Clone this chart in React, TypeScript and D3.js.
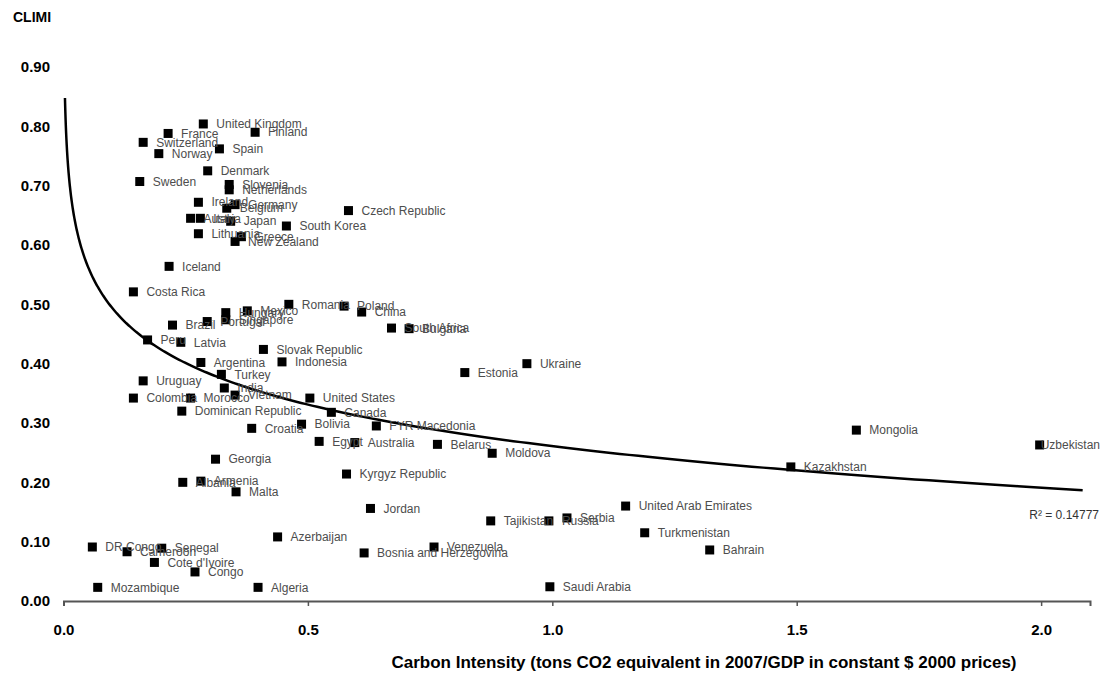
import React, { useEffect, useRef } from "react";
import * as d3 from "d3";

const width = 1111;
const height = 673;
const margin = { top: 67, right: 21, bottom: 72, left: 63.5 };

// carbon intensity (x) and CLIMI score (y)
const countries = [
  "United Kingdom", "Finland", "France", "Switzerland", "Spain", "Norway", "Denmark", "Sweden",
  "Slovenia", "Netherlands", "Ireland", "Germany", "Belgium", "Austria", "Italy", "Japan",
  "South Korea", "Czech Republic", "Lithuania", "Greece", "New Zealand", "Iceland", "Costa Rica",
  "Romania", "Poland", "China", "Hungary", "Mexico", "Portugal", "Singapore", "Brazil", "Peru",
  "Latvia", "Slovak Republic", "Indonesia", "Argentina", "Turkey", "Uruguay", "India", "Vietnam",
  "Colombia", "Morocco", "United States", "Dominican Republic", "Canada", "Croatia", "Bolivia",
  "FYR Macedonia", "Egypt", "Australia", "Belarus", "Moldova", "Georgia", "Kyrgyz Republic",
  "Albania", "Armenia", "Malta", "Jordan", "Tajikistan", "Russia", "Serbia", "United Arab Emirates",
  "Turkmenistan", "Azerbaijan", "Bosnia and Herzegovina", "Venezuela", "Bahrain", "DR Congo",
  "Cameroon", "Senegal", "Cote d'Ivoire", "Congo", "Mozambique", "Algeria", "Saudi Arabia",
  "Ukraine", "Estonia", "South Africa", "Bulgaria", "Mongolia", "Kazakhstan", "Uzbekistan",
];

const intensity = [
  0.286, 0.392, 0.214, 0.163, 0.319, 0.195, 0.295, 0.156,
  0.339, 0.339, 0.276, 0.351, 0.334, 0.26, 0.28, 0.342,
  0.456, 0.583, 0.276, 0.364, 0.351, 0.216, 0.143,
  0.461, 0.574, 0.61, 0.332, 0.376, 0.294, 0.332, 0.223, 0.172,
  0.24, 0.409, 0.447, 0.281, 0.323, 0.163, 0.329, 0.351,
  0.143, 0.26, 0.504, 0.242, 0.548, 0.385, 0.487,
  0.64, 0.523, 0.596, 0.765, 0.877, 0.311, 0.579,
  0.244, 0.281, 0.353, 0.628, 0.874, 0.993, 1.03, 1.15,
  1.189, 0.438, 0.615, 0.758, 1.322, 0.059,
  0.13, 0.201, 0.186, 0.269, 0.07, 0.398, 0.995,
  0.948, 0.821, 0.671, 0.707, 1.622, 1.488, 1.997,
];

const climi = [
  0.804, 0.79, 0.788, 0.773, 0.762, 0.754, 0.725, 0.707,
  0.702, 0.693, 0.672, 0.668, 0.662, 0.645, 0.645, 0.64,
  0.632, 0.658, 0.619, 0.614, 0.606, 0.564, 0.521,
  0.5, 0.497, 0.487, 0.486, 0.489, 0.471, 0.474, 0.465, 0.44,
  0.436, 0.424, 0.403, 0.402, 0.382, 0.371, 0.359, 0.347,
  0.342, 0.342, 0.342, 0.32, 0.318, 0.291, 0.298,
  0.295, 0.269, 0.267, 0.264, 0.249, 0.239, 0.214,
  0.2, 0.202, 0.184, 0.156, 0.135, 0.135, 0.14, 0.16,
  0.115, 0.108, 0.081, 0.091, 0.086, 0.091,
  0.083, 0.089, 0.065, 0.049, 0.023, 0.023, 0.024,
  0.4, 0.385, 0.46, 0.459, 0.288, 0.226, 0.263,
];

const xTicks = [0, 0.5, 1, 1.5, 2];
const yTicks = [0, 0.1, 0.2, 0.3, 0.4, 0.5, 0.6, 0.7, 0.8, 0.9];
const rSquaredLabel = "R² = 0.14777";
// logarithmic trendline y = a + b ln(x), as drawn in the picture
const trendA = 0.261;
const trendB = -0.101;
const trendFrom = 0.003;
const trendTo = 2.085;

const font = "'Liberation Sans', Arial, sans-serif";

export default function App() {
  const ref = useRef<SVGSVGElement>(null);

  useEffect(() => {
    const svg = d3.select(ref.current);
    svg.selectAll("*").remove();

    const x = d3.scaleLinear([0, 2.1], [margin.left, width - margin.right]);
    const y = d3.scaleLinear([0, 0.9], [height - margin.bottom, margin.top]);

    // x axis
    const xAxis = svg
      .append("g")
      .attr("transform", `translate(0,${y(0)})`)
      .call(d3.axisBottom(x).tickValues(xTicks).tickSize(5).tickFormat(d3.format(".1f")));
    xAxis.select(".domain").attr("stroke", "#555").attr("stroke-width", 2);
    xAxis.selectAll(".tick line").attr("stroke", "#555").attr("stroke-width", 1.5);
    xAxis
      .selectAll(".tick text")
      .attr("y", 23)
      .attr("fill", "#000")
      .style("font", `bold 15px ${font}`);

    // y tick labels only (no axis line)
    svg
      .append("g")
      .selectAll("text")
      .data(yTicks)
      .join("text")
      .attr("x", 50)
      .attr("y", (d) => y(d))
      .attr("dy", "0.35em")
      .attr("text-anchor", "end")
      .style("font", `bold 15px ${font}`)
      .text((d) => d.toFixed(2));

    svg
      .append("text")
      .attr("x", 13)
      .attr("y", 22)
      .style("font", `bold 14px ${font}`)
      .text("CLIMI");

    svg
      .append("text")
      .attr("x", 704)
      .attr("y", 668)
      .attr("text-anchor", "middle")
      .style("font", `bold 17px ${font}`)
      .text("Carbon Intensity (tons CO2 equivalent in 2007/GDP in constant $ 2000 prices)");

    // trendline
    const trendX = d3.range(0, 401).map((i) => trendFrom * Math.pow(trendTo / trendFrom, i / 400));
    svg
      .append("path")
      .datum(trendX)
      .attr("fill", "none")
      .attr("stroke", "#000")
      .attr("stroke-width", 2.5)
      .attr(
        "d",
        d3
          .line<number>()
          .x((d) => x(d))
          .y((d) => y(trendA + trendB * Math.log(d)))
      );

    const idx = d3.range(countries.length);

    // markers
    svg
      .append("g")
      .selectAll("rect")
      .data(idx)
      .join("rect")
      .attr("x", (i) => x(intensity[i]) - 4.5)
      .attr("y", (i) => y(climi[i]) - 4.5)
      .attr("width", 9)
      .attr("height", 9)
      .attr("fill", "#000");

    // labels (pulled back left when they would run past the plot edge)
    svg
      .append("g")
      .selectAll("text")
      .data(idx)
      .join("text")
      .attr("x", (i) => x(intensity[i]) + 13)
      .attr("y", (i) => y(climi[i]))
      .attr("dy", "0.35em")
      .attr("fill", "#4d4d4d")
      .style("font", `12px ${font}`)
      .text((i) => countries[i])
      .each(function () {
        const el = this as SVGTextElement;
        const w = el.getComputedTextLength();
        const lx = +el.getAttribute("x")!;
        if (lx + w > 1100) el.setAttribute("x", String(1100 - w));
      });

    svg
      .append("text")
      .attr("x", 1099)
      .attr("y", y(0.146))
      .attr("dy", "0.35em")
      .attr("text-anchor", "end")
      .attr("fill", "#333")
      .style("font", `12px ${font}`)
      .text(rSquaredLabel);
  }, []);

  return (
    <svg
      ref={ref}
      width={width}
      height={height}
      style={{ position: "absolute", left: 0, top: 0, background: "#fff" }}
    />
  );
}
